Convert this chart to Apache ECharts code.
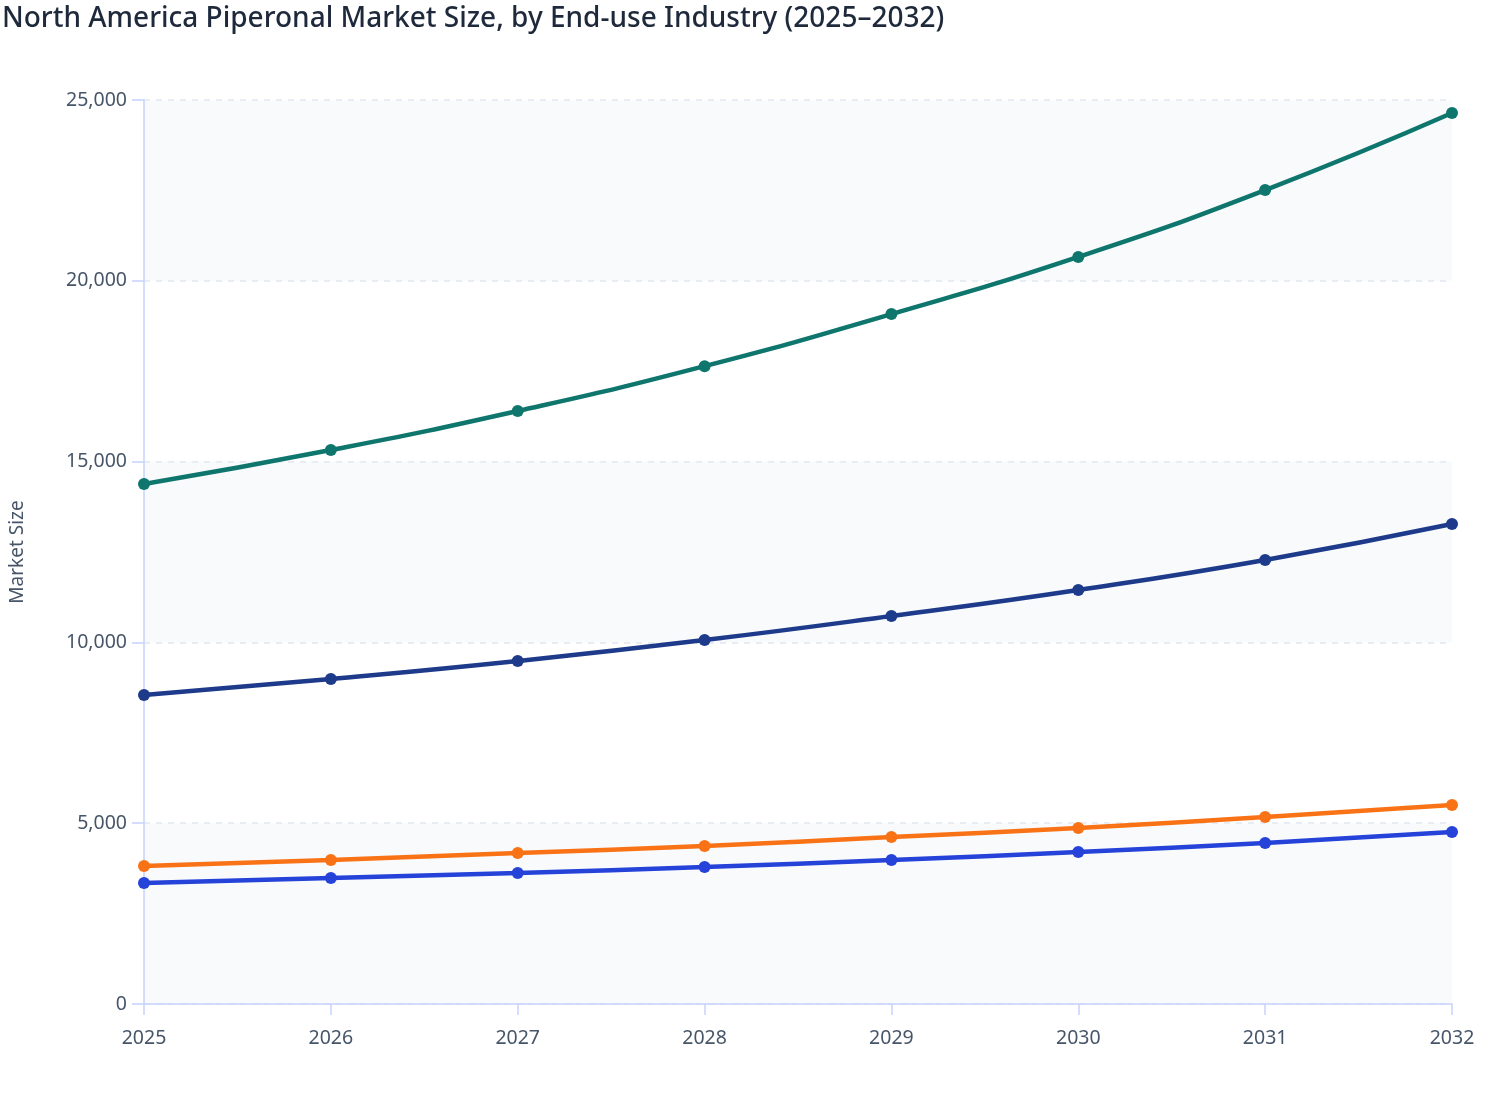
<!DOCTYPE html>
<html>
<head>
<meta charset="utf-8">
<script src="https://cdn.jsdelivr.net/npm/echarts@6/dist/echarts.min.js"></script>
<style>html,body{margin:0;padding:0;background:#fff;}#c{width:1508px;height:1120px;}</style>
</head>
<body>
<div id="c"></div>
<script>
const years = ['2025','2026','2027','2028','2029','2030','2031','2032'];
const flavorsFragrances = [14380, 15320, 16400, 17640, 19080, 20660, 22510, 24640];
const personalCare = [8545, 8988, 9486, 10066, 10730, 11449, 12279, 13274];
const foodBeverages = [3816, 3982, 4176, 4369, 4618, 4867, 5171, 5503];
const pharmaceuticals = [3346, 3484, 3623, 3789, 3982, 4204, 4453, 4757];
const yTicks = [0, 5000, 10000, 15000, 20000, 25000];

const chart = echarts.init(document.getElementById('c'));
function mk(name, data, color) {
  return {
    name: name, type: 'line', data: data, smooth: true,
    symbol: 'circle', symbolSize: 12, showSymbol: true,
    lineStyle: { width: 4.5, color: color },
    itemStyle: { color: color }
  };
}
chart.setOption({
  animation: false,
  title: {
    text: 'North America Piperonal Market Size, by End-use Industry (2025–2032)',
    left: -3, top: 0,
    textStyle: { fontFamily: 'Noto Sans', fontSize: 28, fontWeight: 500, color: '#1e293b' }
  },
  tooltip: { trigger: 'axis' },
  grid: { left: 141, right: 56, top: 100, bottom: 116, containLabel: false },
  xAxis: {
    type: 'category', data: years, boundaryGap: false,
    axisLine: { lineStyle: { color: '#c7d2fe', width: 1.5 } },
    axisTick: { length: 11, lineStyle: { color: '#c7d2fe', width: 1.5 } },
    axisLabel: { margin: 24, fontFamily: 'Noto Sans', fontSize: 19.5, color: '#475569' },
    splitLine: { show: false }
  },
  yAxis: {
    type: 'value', min: yTicks[0], max: yTicks[yTicks.length - 1], interval: 5000,
    name: 'Market Size', nameLocation: 'middle', nameGap: 117,
    nameTextStyle: { fontFamily: 'Noto Sans', fontSize: 19, color: '#475569' },
    axisLine: { show: true, lineStyle: { color: '#c7d2fe', width: 1.5 } },
    axisTick: { show: true, length: 12, lineStyle: { color: '#c7d2fe', width: 1.5 } },
    axisLabel: {
      margin: 17, fontFamily: 'Noto Sans', fontSize: 19.5, color: '#475569',
      formatter: v => v.toLocaleString('en-US')
    },
    splitLine: { show: true, lineStyle: { color: '#e2e8f0', type: [6, 6], width: 1.5 } },
    splitArea: { show: true, areaStyle: { color: ['#f8fafc', 'rgba(255,255,255,0)'] } }
  },
  series: [
    mk('Flavors & Fragrances', flavorsFragrances, '#0f766e'),
    mk('Personal Care & Cosmetics', personalCare, '#1e3a8a'),
    mk('Food & Beverages', foodBeverages, '#f97316'),
    mk('Pharmaceuticals', pharmaceuticals, '#2542d9')
  ]
});
</script>
</body>
</html>
